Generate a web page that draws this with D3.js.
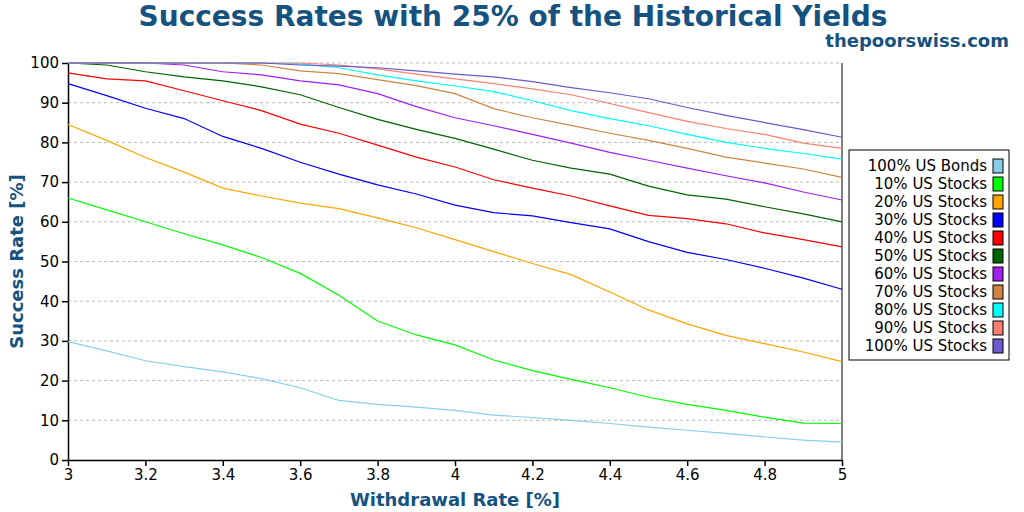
<!DOCTYPE html>
<html><head><meta charset="utf-8">
<script src="https://cdn.jsdelivr.net/npm/d3@7"></script>
<style>body{margin:0;background:#fff;font-family:"DejaVu Sans",sans-serif;}</style>
</head><body><svg id="chart" width="1024" height="512"></svg>
<script>
const rates = [3, 3.1, 3.2, 3.3, 3.4, 3.5, 3.6, 3.7, 3.8, 3.9, 4, 4.1, 4.2, 4.3, 4.4, 4.5, 4.6, 4.7, 4.8, 4.9, 5];
const seriesNames = ['100% US Bonds', '10% US Stocks', '20% US Stocks', '30% US Stocks', '40% US Stocks', '50% US Stocks',
  '60% US Stocks', '70% US Stocks', '80% US Stocks', '90% US Stocks', '100% US Stocks'];
const colors = ['#87ceeb', '#00ff00', '#ffa500', '#0000ff', '#ff0000', '#006400', '#a020f0', '#cd853f', '#00ffff', '#fa8072', '#6a5acd'];
const bonds = [29.8, 27.5, 25, 23.5, 22.2, 20.5, 18.2, 15, 14, 13.3, 12.5, 11.3, 10.7, 10, 9.2, 8.3, 7.5, 6.7, 5.8, 5, 4.5];
const s10 = [66, 63, 60, 57, 54.2, 51, 47, 41.5, 35, 31.5, 29, 25.2, 22.5, 20.3, 18.2, 15.8, 14, 12.5, 10.8, 9.3, 9.2];
const s20 = [84.5, 80.5, 76.2, 72.5, 68.5, 66.5, 64.7, 63.3, 61, 58.5, 55.5, 52.5, 49.5, 46.7, 42.3, 37.8, 34.3, 31.4, 29.3, 27.2, 24.8];
const s30 = [94.8, 91.8, 88.6, 86, 81.5, 78.5, 75, 72, 69.3, 67, 64.2, 62.3, 61.5, 59.8, 58.2, 55, 52.3, 50.5, 48.3, 45.8, 43];
const s40 = [97.5, 96, 95.5, 93, 90.5, 88, 84.6, 82.3, 79.3, 76.3, 73.8, 70.6, 68.5, 66.5, 64, 61.6, 60.8, 59.5, 57.2, 55.5, 53.7];
const s50 = [100, 99.5, 97.8, 96.5, 95.5, 94, 92, 88.8, 85.8, 83.3, 81, 78.3, 75.5, 73.5, 72, 69, 66.8, 65.7, 63.8, 62, 60];
const s60 = [100, 100, 100, 99.5, 97.8, 97, 95.5, 94.5, 92.3, 89, 86.2, 84.2, 82, 79.8, 77.5, 75.5, 73.5, 71.6, 69.8, 67.5, 65.5];
const s70 = [100, 100, 100, 100, 100, 99.5, 98, 97.3, 95.8, 94.3, 92.3, 88.5, 86.2, 84.3, 82.3, 80.5, 78.5, 76.3, 74.8, 73.3, 71.2];
const s80 = [100, 100, 100, 100, 100, 100, 99.8, 98.8, 97, 95.5, 94.2, 92.8, 90.5, 88, 86, 84.2, 82, 80, 78.5, 77.2, 75.8];
const s90 = [100, 100, 100, 100, 100, 100, 100, 99.5, 98.5, 97.2, 96, 94.8, 93.5, 92, 89.8, 87.5, 85.3, 83.5, 82, 79.8, 78.5];
const s100 = [100, 100, 100, 100, 100, 100, 99.5, 99.2, 98.8, 98, 97.2, 96.5, 95.3, 93.8, 92.5, 91, 88.8, 86.8, 85, 83.2, 81.3];
const allSeries = [bonds, s10, s20, s30, s40, s50, s60, s70, s80, s90, s100];
const xTicks = [3, 3.2, 3.4, 3.6, 3.8, 4, 4.2, 4.4, 4.6, 4.8, 5];
const yTicks = d3.range(0, 101, 10);

const titleColor = '#15527f';
const margin = { top: 63, right: 182, bottom: 52, left: 68 },
  width = 1024 - margin.left - margin.right,
  height = 512 - margin.top - margin.bottom;

const root = d3.select('#chart');
root.append('text').attr('x', 513).attr('y', 26).attr('text-anchor', 'middle')
  .attr('font-size', 28).attr('font-weight', 'bold').attr('fill', titleColor)
  .text('Success Rates with 25% of the Historical Yields');
root.append('text').attr('x', 1009).attr('y', 47).attr('text-anchor', 'end')
  .attr('font-size', 18).attr('font-weight', 'bold').attr('fill', titleColor)
  .text('thepoorswiss.com');

const svg = root.append('g').attr('transform', 'translate(' + margin.left + ',' + margin.top + ')');
const x = d3.scaleLinear().domain([3, 5]).range([0, width]);
const y = d3.scaleLinear().domain([0, 100]).range([height, 0]);

// grid
svg.append('g').selectAll('line').data(yTicks.slice(1)).enter().append('line')
  .attr('x1', 0).attr('x2', width).attr('y1', d => y(d)).attr('y2', d => y(d))
  .attr('stroke', '#bbb').attr('stroke-dasharray', '3,3');

const xa = svg.append('g').attr('transform', 'translate(0,' + height + ')')
  .call(d3.axisBottom(x).tickValues(xTicks).tickFormat(d3.format('')).tickSizeOuter(0));
const ya = svg.append('g').call(d3.axisLeft(y).tickValues(yTicks).tickSizeOuter(0));
svg.append('line').attr('x1', width).attr('x2', width).attr('y1', 0).attr('y2', height).attr('stroke', '#000');
[xa, ya].forEach(a => {
  a.selectAll('text').attr('font-size', 15).attr('fill', '#000').attr('font-family', 'DejaVu Sans');
  a.selectAll('path,line').attr('stroke', '#000').attr('stroke-width', 1.5);
});

svg.append('text').attr('x', width / 2).attr('y', height + 46).attr('text-anchor', 'middle')
  .attr('font-size', 18).attr('font-weight', 'bold').attr('fill', titleColor).text('Withdrawal Rate [%]');
svg.append('text').attr('transform', 'rotate(-90)').attr('x', -height / 2).attr('y', -45)
  .attr('text-anchor', 'middle').attr('font-size', 18).attr('font-weight', 'bold').attr('fill', titleColor)
  .text('Success Rate [%]');

const line = d3.line().x((d, i) => x(rates[i])).y(d => y(d));
allSeries.forEach((s, k) => {
  svg.append('path').datum(s).attr('fill', 'none').attr('stroke', colors[k])
    .attr('stroke-width', 1.2).attr('d', line);
});

// legend
const lg = root.append('g').attr('transform', 'translate(849,150)');
lg.append('rect').attr('width', 160).attr('height', 210).attr('fill', '#fff').attr('stroke', '#000');
seriesNames.forEach((n, k) => {
  lg.append('text').attr('x', 138).attr('y', 21 + k * 18).attr('text-anchor', 'end')
    .attr('font-size', 15).attr('fill', '#000').text(n);
  lg.append('rect').attr('x', 144).attr('y', 9 + k * 18).attr('width', 10).attr('height', 14)
    .attr('fill', colors[k]).attr('stroke', '#000');
});
</script></body></html>
